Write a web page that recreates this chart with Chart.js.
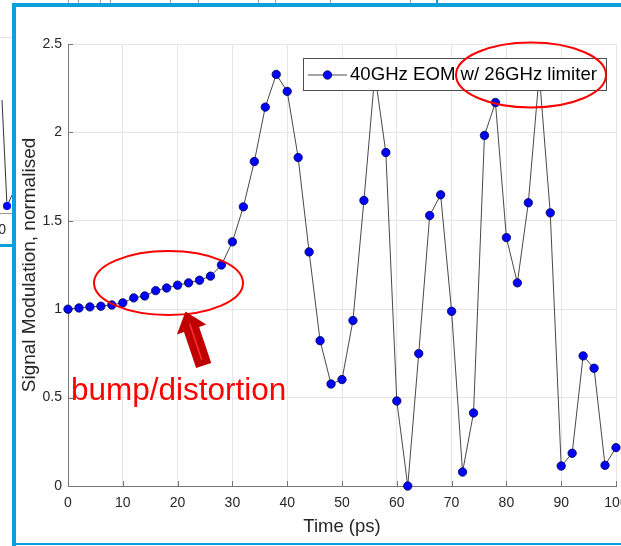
<!DOCTYPE html>
<html>
<head>
<meta charset="utf-8">
<title>Signal modulation</title>
<script src="https://cdn.jsdelivr.net/npm/chart.js@4.4.1/dist/chart.umd.min.js"></script>
<style>
    html, body { margin: 0; padding: 0; background: #ffffff; }
    #wrap { position: relative; width: 621px; height: 546px; overflow: hidden; }
</style>
</head>
<body>
<div id="wrap"><canvas id="chart" width="621" height="546"></canvas></div>
<script>
// Data
const timePs = [0, 2, 4, 6, 8, 10, 12, 14, 16, 18, 20, 22, 24, 26, 28, 30, 32, 34, 36, 38, 40,
    42, 44, 46, 48, 50, 52, 54, 56, 58, 60, 62, 64, 66, 68, 70, 72, 74, 76, 78, 80,
    82, 84, 86, 88, 90, 92, 94, 96, 98, 100];
const signalMod = [1.000, 1.007, 1.013, 1.017, 1.024, 1.036, 1.064, 1.075, 1.105, 1.120, 1.136,
    1.149, 1.164, 1.187, 1.250, 1.381, 1.579, 1.835, 2.143, 2.328, 2.232,
    1.858, 1.324, 0.822, 0.577, 0.602, 0.936, 1.615, 2.330, 1.886, 0.481,
    0.000, 0.749, 1.530, 1.647, 0.988, 0.079, 0.413, 1.983, 2.169, 1.405,
    1.149, 1.602, 2.330, 1.545, 0.113, 0.185, 0.736, 0.666, 0.117, 0.217];
const seriesName = '40GHz EOM w/ 26GHz limiter';
const xTicks = [0, 10, 20, 30, 40, 50, 60, 70, 80, 90, 100];
const yTicks = [0, 0.5, 1, 1.5, 2, 2.5];
const yTickLabels = ['0', '0.5', '1', '1.5', '2', '2.5'];

const FONT = "'Liberation Sans', Arial, Helvetica, sans-serif";
const TEXT = '#262626';
const AXIS = '#767676';
Chart.defaults.font.family = FONT;

// MATLAB style inward ticks, legend, screenshot frame and the red notes
const decorPlugin = {
    id: 'decor',
    beforeDraw(chart) {
        const ctx = chart.ctx;
        ctx.save();
        ctx.fillStyle = '#ffffff';
        ctx.fillRect(0, 0, chart.width, chart.height);
        ctx.restore();
    },
    beforeDatasetsDraw(chart) {
        const ctx = chart.ctx;
        const xs = chart.scales.x, ys = chart.scales.y;
        const a = chart.chartArea;
        ctx.save();
        ctx.strokeStyle = AXIS;
        ctx.lineWidth = 1;
        ctx.beginPath();
        xTicks.forEach(v => {
            const px = Math.round(xs.getPixelForValue(v)) + 0.5;
            ctx.moveTo(px, a.bottom);
            ctx.lineTo(px, a.bottom - 5);
        });
        yTicks.forEach(v => {
            const py = Math.round(ys.getPixelForValue(v)) + 0.5;
            ctx.moveTo(a.left, py);
            ctx.lineTo(a.left + 5, py);
        });
        ctx.stroke();
        ctx.restore();
    },
    afterDraw(chart) {
        const ctx = chart.ctx;
        const ds = chart.data.datasets[0];
        ctx.save();

        // legend box
        const lx = 303, ly = 58, lw = 303, lh = 32;
        ctx.fillStyle = '#ffffff';
        ctx.fillRect(lx, ly, lw, lh);
        ctx.strokeStyle = '#4d4d4d';
        ctx.lineWidth = 1;
        ctx.strokeRect(lx + 0.5, ly + 0.5, lw, lh);
        const cy = ly + lh / 2 + 1;
        ctx.strokeStyle = ds.borderColor;
        ctx.lineWidth = ds.borderWidth;
        ctx.beginPath();
        ctx.moveTo(308, cy);
        ctx.lineTo(347, cy);
        ctx.stroke();
        ctx.beginPath();
        ctx.arc(327.5, cy, ds.pointRadius, 0, Math.PI * 2);
        ctx.fillStyle = ds.pointBackgroundColor;
        ctx.fill();
        ctx.strokeStyle = ds.pointBorderColor;
        ctx.lineWidth = ds.pointBorderWidth;
        ctx.stroke();
        ctx.fillStyle = '#000000';
        ctx.font = '18.6px ' + FONT;
        ctx.textBaseline = 'middle';
        ctx.textAlign = 'left';
        ctx.fillText(ds.label, 350, cy);

        // red ellipses
        ctx.strokeStyle = '#ff0000';
        ctx.lineWidth = 2;
        ctx.beginPath();
        ctx.ellipse(168.5, 283, 74.5, 32, 0, 0, Math.PI * 2);
        ctx.stroke();
        ctx.beginPath();
        ctx.ellipse(531, 75, 75, 32.5, 0, 0, Math.PI * 2);
        ctx.stroke();

        // arrow
        const tip = [185.5, 311.5];
        const d = [0.319, 0.947], n = [0.947, -0.319];
        const headLen = 19, headHalf = 15.5, shaftHalf = 8, total = 57;
        const base = [tip[0] + d[0] * headLen, tip[1] + d[1] * headLen];
        const tail = [tip[0] + d[0] * total, tip[1] + d[1] * total];
        ctx.fillStyle = '#c00000';
        ctx.beginPath();
        ctx.moveTo(tip[0], tip[1]);
        ctx.lineTo(base[0] + n[0] * headHalf, base[1] + n[1] * headHalf);
        ctx.lineTo(base[0] + n[0] * shaftHalf, base[1] + n[1] * shaftHalf);
        ctx.lineTo(tail[0] + n[0] * shaftHalf, tail[1] + n[1] * shaftHalf);
        ctx.lineTo(tail[0] - n[0] * shaftHalf, tail[1] - n[1] * shaftHalf);
        ctx.lineTo(base[0] - n[0] * shaftHalf, base[1] - n[1] * shaftHalf);
        ctx.lineTo(base[0] - n[0] * headHalf, base[1] - n[1] * headHalf);
        ctx.closePath();
        ctx.fill();
        ctx.strokeStyle = '#ff3030';
        ctx.lineWidth = 1.5;
        ctx.beginPath();
        ctx.moveTo(base[0] - d[0] * 6, base[1] - d[1] * 6);
        ctx.lineTo(tail[0] - d[0] * 6, tail[1] - d[1] * 6);
        ctx.stroke();

        ctx.fillStyle = '#ff0000';
        ctx.font = '31.5px ' + FONT;
        ctx.textBaseline = 'alphabetic';
        ctx.fillText('bump/distortion', 71, 400);

        // bits of the window behind the screenshot frame
        ctx.fillStyle = '#ffffff';
        ctx.fillRect(0, 0, 12, chart.height);
        ctx.fillRect(0, 0, chart.width, 3);
        ctx.strokeStyle = '#e2e2e2';
        ctx.lineWidth = 1;
        ctx.beginPath();
        ctx.moveTo(0, 37.5); ctx.lineTo(12, 37.5);
        ctx.stroke();
        ctx.strokeStyle = '#9a9a9a';
        ctx.beginPath();
        ctx.moveTo(0, 213.5); ctx.lineTo(12, 213.5);
        [68, 78, 100, 110, 170, 198, 258, 275, 330, 410].forEach(x => {
            ctx.moveTo(x + 0.5, 0); ctx.lineTo(x + 0.5, 3);
        });
        ctx.stroke();
        ctx.strokeStyle = '#333333';
        ctx.beginPath();
        ctx.moveTo(2, 100); ctx.lineTo(7, 206); ctx.lineTo(12, 195);
        ctx.stroke();
        ctx.beginPath();
        ctx.arc(7, 206, 4, 0, Math.PI * 2);
        ctx.fillStyle = '#0000ff';
        ctx.fill();
        ctx.fillStyle = TEXT;
        ctx.font = '14px ' + FONT;
        ctx.textAlign = 'right';
        ctx.textBaseline = 'middle';
        ctx.fillText('0', 6, 230);

        // blue screenshot frame
        ctx.fillStyle = '#0d9fdc';
        ctx.fillRect(12, 3, 4, chart.height - 3);
        ctx.fillRect(12, 3, chart.width - 12, 4);
        ctx.fillRect(12, 543, chart.width - 12, 2);
        ctx.fillRect(0, 244, 12, 3);
        ctx.fillRect(436, 0, 2, 4);
        ctx.restore();
    }
};

const points = timePs.map((t, i) => ({ x: t, y: signalMod[i] }));

new Chart(document.getElementById('chart'), {
    type: 'line',
    data: {
        datasets: [{
            label: seriesName,
            data: points,
            borderColor: '#333333',
            borderWidth: 0.9,
            pointRadius: 4.2,
            pointBackgroundColor: '#0000ff',
            pointBorderColor: '#00004d',
            pointBorderWidth: 0.8,
            tension: 0,
            clip: false
        }]
    },
    options: {
        responsive: false,
        animation: false,
        devicePixelRatio: 1,
        layout: { padding: { top: 44, right: 1, bottom: 0, left: 0 } },
        plugins: { legend: { display: false }, tooltip: { enabled: false } },
        scales: {
            x: {
                type: 'linear',
                min: 0,
                max: 100,
                afterBuildTicks: s => { s.ticks = xTicks.map(v => ({ value: v })); },
                afterFit: s => { s.height = 60; s.paddingLeft = 0; s.paddingRight = 0; },
                grid: { color: '#e6e6e6', drawTicks: false },
                border: { color: AXIS },
                ticks: { color: TEXT, font: { size: 14 }, padding: 9, maxRotation: 0, autoSkip: false },
                title: { display: true, text: 'Time (ps)', color: TEXT, font: { size: 18.5 }, padding: { top: 0, bottom: 8 } }
            },
            y: {
                min: 0,
                max: 2.5,
                afterBuildTicks: s => { s.ticks = yTicks.map(v => ({ value: v })); },
                afterFit: s => { s.width = 68; s.paddingTop = 0; s.paddingBottom = 0; },
                grid: { color: '#e6e6e6', drawTicks: false },
                border: { color: AXIS },
                ticks: {
                    color: TEXT, font: { size: 14 }, padding: 6, autoSkip: false,
                    callback: v => yTickLabels[yTicks.indexOf(v)]
                },
                title: { display: true, text: 'Signal Modulation, normalised', color: TEXT, font: { size: 19 }, padding: { top: 18, bottom: 0 } }
            }
        }
    },
    plugins: [decorPlugin]
});
</script>
</body>
</html>
